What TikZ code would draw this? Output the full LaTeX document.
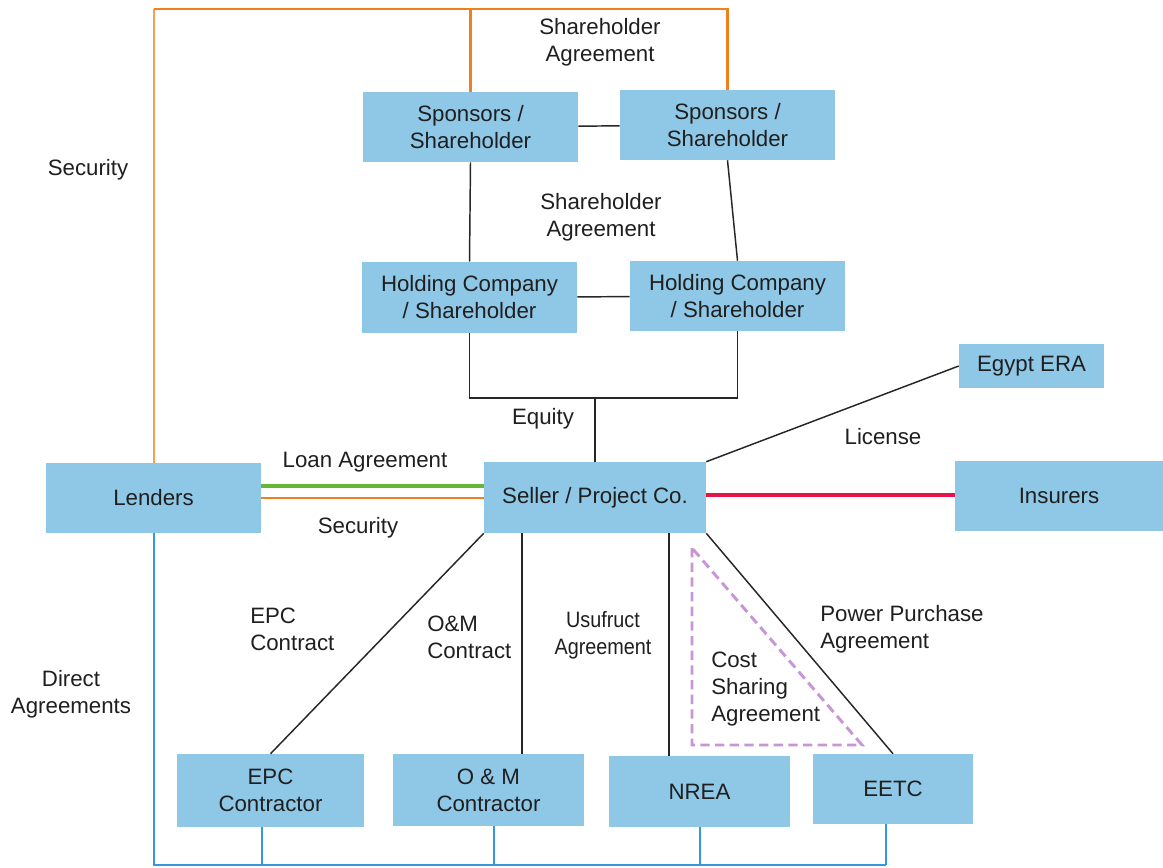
\documentclass[tikz,border=0pt]{standalone}
\usepackage{fontspec}
\setmainfont{Liberation Sans}
\newfontfamily\narrowfont[FakeStretch=0.89]{Liberation Sans}
\begin{document}
\begin{tikzpicture}[x=0.75pt,y=-0.75pt,
  every node/.style={font=\fontsize{16.7pt}{20.2pt}\selectfont, text=black!88},
  box/.style={fill=boxblue, inner sep=0pt, align=center},
  lbl/.style={inner sep=0pt, align=center},
  lbll/.style={inner sep=0pt, align=left, anchor=west},
  conn/.style={draw=black!85, line width=1.1pt},
  orangeln/.style={draw=lnorange, line width=1.6pt},
  blueln/.style={draw=lnblue, line width=1.5pt},
  bluethin/.style={draw=lnblue, line width=0.9pt}]
\definecolor{boxblue}{RGB}{143,200,230}
\definecolor{lnorange}{RGB}{240,128,30}
\definecolor{lnorangelt}{RGB}{246,158,84}
\definecolor{lngreen}{RGB}{104,182,56}
\definecolor{lnred}{RGB}{228,22,72}
\definecolor{lnblue}{RGB}{52,152,222}
\definecolor{lavender}{RGB}{200,150,212}
\useasboundingbox (0,0) rectangle (1163,867);

% boxes
\node[box, minimum width=161.25pt, minimum height=52.5pt] (sp1) at (470.5,127) {Sponsors /\\Shareholder};
\node[box, minimum width=161.25pt, minimum height=52.5pt] (sp2) at (727.5,125) {Sponsors /\\Shareholder};
\node[box, minimum width=161.25pt, minimum height=53.25pt] (ho1) at (469.5,297.5) {Holding Company\\/ Shareholder};
\node[box, minimum width=161.25pt, minimum height=52.5pt] (ho2) at (737.5,296) {Holding Company\\/ Shareholder};
\node[box, minimum width=108.75pt, minimum height=33pt] (era) at (1031.5,366) {Egypt ERA};
\node[box, minimum width=161.25pt, minimum height=52.5pt] (len) at (153.5,498) {Lenders};
\node[box, minimum width=166.5pt, minimum height=53.25pt] (sel) at (595,497.5) {Seller / Project Co.};
\node[box, minimum width=156pt, minimum height=52.5pt] (ins) at (1059,496) {Insurers};
\node[box, minimum width=140.25pt, minimum height=54.75pt] (epc) at (270.5,790.5) {EPC\\Contractor};
\node[box, minimum width=143.25pt, minimum height=54pt] (om) at (488.5,790) {O \& M\\Contractor};
\node[box, minimum width=135.75pt, minimum height=53.25pt] (nrea) at (699.5,791.5) {NREA};
\node[box, minimum width=120pt, minimum height=52.5pt] (eetc) at (893,789) {EETC};

% helper coordinates
\coordinate (topy) at (0,9);
\coordinate (eqy) at (0,398);
\coordinate (yloan) at (0,486);
\coordinate (ysec) at (0,498);
\coordinate (yins) at (0,495);
\coordinate (xom) at (522,0);
\coordinate (xnrea) at (669,0);
\coordinate (ybot) at (0,865);
\coordinate (xb1) at (262,0);
\coordinate (xb2) at (494,0);
\coordinate (xb3) at (700,0);
\coordinate (xb4) at (886,0);

% orange security lines
\draw[draw=lnorangelt, line width=1.5pt] (len.north) -- (len.north |- topy);
\draw[orangeln] (len.north |- topy) -| (sp2.north);
\draw[orangeln] (sp1.north) -- (sp1.north |- topy);

% shareholder structure
\draw[conn] (sp1) -- (sp2);
\draw[conn] (sp1.south) -- (ho1.north);
\draw[conn] (sp2.south) -- (ho2.north);
\draw[conn] (ho1) -- (ho2);
\draw[conn] (ho1.south) |- (ho2.south |- eqy) -- (ho2.south);
\draw[conn] (sel.north) -- (sel.north |- eqy);

% lenders
\draw[draw=lngreen, line width=2.4pt] (len.east |- yloan) -- (sel.west |- yloan);
\draw[draw=lnorange, line width=1.3pt] (len.east |- ysec) -- (sel.west |- ysec);

% right side
\draw[conn] (sel.north east) -- (era.west);
\draw[draw=lnred, line width=2.4pt] (sel.east |- yins) -- (ins.west |- yins);

% contracts
\draw[conn] (sel.south west) -- (epc.north);
\draw[conn] (sel.south -| xom) -- (om.north -| xom);
\draw[conn] (sel.south -| xnrea) -- (nrea.north -| xnrea);
\draw[conn] (sel.south east) -- (eetc.north);

% cost sharing triangle
\draw[draw=lavender, line width=2.2pt, dash pattern=on 7pt off 4pt] (692,548) -- (692,745) -- (862,745) -- cycle;

% direct agreements (blue)
\draw[blueln] (len.south) |- (xb4 |- ybot);
\draw[bluethin] (epc.south -| xb1) -- (xb1 |- ybot);
\draw[bluethin] (om.south -| xb2) -- (xb2 |- ybot);
\draw[bluethin] (nrea.south -| xb3) -- (xb3 |- ybot);
\draw[bluethin] (eetc.south -| xb4) -- (xb4 |- ybot);

% labels
\node[lbl] (l1) at (600,42) {Shareholder\\Agreement};
\node[lbl] (l2) at (601,217) {Shareholder\\Agreement};
\node[lbl] (l3) at (88,170) {Security};
\node[lbl] (l4) at (543,419) {Equity};
\node[lbl] (l5) at (365,462) {Loan Agreement};
\node[lbl] (l6) at (358,528) {Security};
\node[lbl] (l7) at (883,437) {License};
\node[lbll] (l8) at (250,629) {EPC\\Contract};
\node[lbll] (l9) at (427,637) {O\&M\\Contract};
\node[lbl, font=\fontsize{16.7pt}{20.2pt}\narrowfont] (l10) at (603,635) {Usufruct\\Agreement};
\node[lbll] (l11) at (820,629) {Power Purchase\\Agreement};
\node[lbll] (l12) at (711,689) {Cost\\Sharing\\Agreement};
\node[lbl] (l13) at (71,694) {Direct\\Agreements};
\end{tikzpicture}
\end{document}
